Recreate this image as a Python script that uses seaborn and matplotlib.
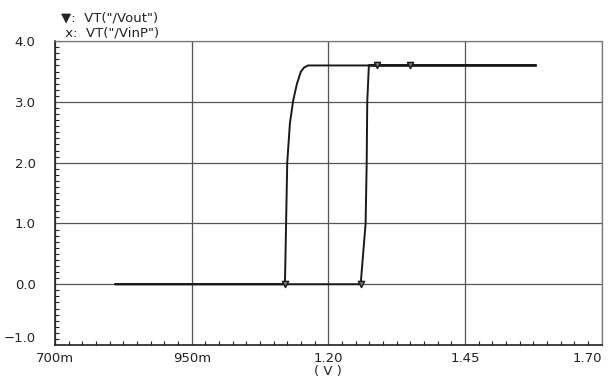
import numpy as np
import pandas as pd
import matplotlib.pyplot as plt
import seaborn as sns
from matplotlib.ticker import MultipleLocator

# Vout hysteresis path (sweep up, then sweep down)
vin = [0.81, 1.259, 1.268, 1.270, 1.271, 1.274, 1.58,
       1.58, 1.163, 1.156, 1.1497, 1.1425, 1.1357, 1.1296, 1.1247, 1.1205, 0.81]
vout = [0.0, 0.0, 1.0, 2.0, 3.0, 3.6, 3.6,
        3.6, 3.6, 3.57, 3.5, 3.3, 3.03, 2.65, 2.0, 0.0, 0.0]

# marker positions on the Vout trace
mark_x = [1.1205, 1.259, 1.288, 1.349]
mark_y = [0.0, 0.0, 3.6, 3.6]

xticks = [0.70, 0.95, 1.20, 1.45, 1.70]
xtick_labels = ['700m', '950m', '1.20', '1.45', '1.70']
yticks = [-1.0, 0.0, 1.0, 2.0, 3.0, 4.0]
ytick_labels = ['\u22121.0', '0.0', '1.0', '2.0', '3.0', '4.0']

sns.set_style('white')
plt.rcParams['font.family'] = ['DejaVu Sans']

df = pd.DataFrame({'vin': vin, 'vout': vout})
marks = pd.DataFrame({'vin': mark_x, 'vout': mark_y})

fig = plt.figure(figsize=(6.11, 3.81), dpi=100)
ax = fig.add_axes([0.090, 0.0945, 0.895, 0.7975])

ax.grid(True, which='major', color='#555555', linewidth=0.9)
ax.set_axisbelow(True)

sns.lineplot(data=df, x='vin', y='vout', sort=False, estimator=None,
             color='#1a1a1a', linewidth=1.4, ax=ax)
sns.scatterplot(data=marks, x='vin', y='vout', marker='v', s=20,
                color='#777777', edgecolor='#1a1a1a', linewidth=1.0,
                ax=ax, zorder=5)

ax.set_xlim(0.70, 1.70)
ax.set_ylim(-1.0, 4.0)
ax.set_xticks(xticks)
ax.set_xticklabels(xtick_labels)
ax.set_yticks(yticks)
ax.set_yticklabels(ytick_labels)
ax.xaxis.set_minor_locator(MultipleLocator(0.025))
ax.yaxis.set_minor_locator(MultipleLocator(0.1))
ax.tick_params(axis='both', which='both', bottom=True, left=True,
               top=False, right=False)
ax.tick_params(axis='x', which='major', direction='in', length=0,
               labelsize=9.5, colors='#222222', pad=5)
ax.tick_params(axis='y', which='major', direction='in', length=0,
               labelsize=9.5, colors='#222222', pad=14)
ax.tick_params(axis='both', which='minor', direction='in', length=3,
               width=0.8, color='#222222')

# last x label sits flush with the right edge
ax.get_xticklabels()[-1].set_horizontalalignment('right')
ax.get_yticklabels()[0].set_verticalalignment('bottom')

for side in ['left', 'bottom']:
    ax.spines[side].set_color('#222222')
    ax.spines[side].set_linewidth(1.2)
for side in ['top', 'right']:
    ax.spines[side].set_color('#777777')
    ax.spines[side].set_linewidth(0.9)

ax.set_xlabel('( V )', fontsize=9.5, color='#222222', labelpad=0)
ax.set_ylabel('')

fig.text(0.100, 0.945, '\u25bc:  VT("/Vout")', fontsize=9.5, color='#222222')
fig.text(0.100, 0.905, ' x:  VT("/VinP")', fontsize=9.5, color='#222222')

fig.savefig('out.png', dpi=100)
